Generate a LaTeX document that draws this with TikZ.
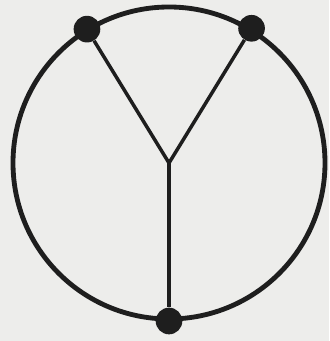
\documentclass[tikz,border=0pt]{standalone}
\usepackage{xcolor}
\usepackage{tikz}
\usetikzlibrary{positioning,calc,backgrounds}
\definecolor{graphink}{HTML}{1E1E1E}
\definecolor{paperbg}{HTML}{EDEDEB}

\begin{document}
\begin{tikzpicture}[
  x=0.03cm,y=0.03cm,
  rim/.style={draw=graphink,line width=1.45mm},
  spoke/.style={draw=graphink,line width=1.05mm},
  vertex/.style={circle,fill=graphink,inner sep=0pt,minimum size=0.8cm}
]
\fill[paperbg] (0,0) rectangle (329,341);
\useasboundingbox (0,0) rectangle (329,341);

\coordinate (hub) at (169,178);
\draw[rim] (hub) circle[radius=156];

\node[vertex] (tl) at ($(hub)+(121.5:157)$) {};
\node[vertex] (tr) at ($(hub)+(58.5:158)$) {};
\node[vertex] (bt) at ($(hub)+(270:158)$) {};

\draw[spoke] (hub) -- (tl);
\draw[spoke] (hub) -- (tr);
\draw[spoke] (hub) -- (bt);
\end{tikzpicture}
\end{document}
